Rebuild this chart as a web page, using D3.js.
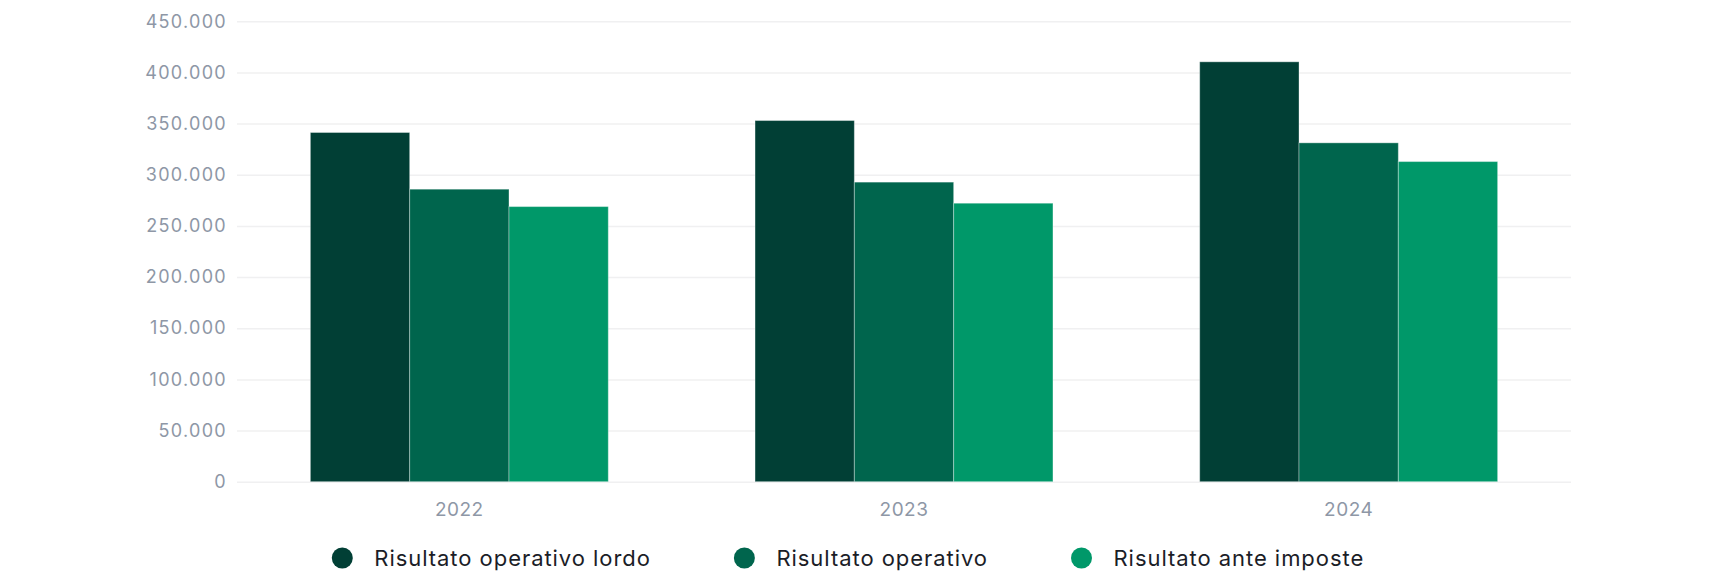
<!DOCTYPE html>
<html><head><meta charset="utf-8">
<script src="https://cdn.jsdelivr.net/npm/d3@7"></script>
<style>
html,body{margin:0;padding:0;background:#fff;}
svg{display:block;font-family:Inter, "Noto Sans", sans-serif;}
</style></head>
<body><svg id="c" width="1716" height="580"></svg>
<script>
const categories = ["2022", "2023", "2024"];
const seriesNames = ["Risultato operativo lordo", "Risultato operativo", "Risultato ante imposte"];
const lordo = [341300, 353000, 410400];
const operativo = [285900, 292800, 331200];
const anteImposte = [268900, 272200, 312900];
const yTicks = [0, 50000, 100000, 150000, 200000, 250000, 300000, 350000, 400000, 450000];
const colors = ["#013f35", "#00654d", "#009869"];

const series = [lordo, operativo, anteImposte];
const svg = d3.select("#c");
const mLeft = 237, mRight = 1571, mTop = 21.3, mBottom = 481.7;

const y = d3.scaleLinear().domain([0, 450000]).range([mBottom, mTop]);
const x0 = d3.scaleBand().domain(categories).range([mLeft, mRight]).paddingInner(0.33).paddingOuter(0.165);
const x1 = d3.scaleBand().domain(d3.range(series.length)).range([0, x0.bandwidth()]);

const fmt = v => d3.format(",")(v).replace(/,/g, ".");

// grid
const yAxis = d3.axisLeft(y).tickValues(yTicks).tickSize(-(mRight - mLeft)).tickPadding(10).tickFormat(fmt);
const gy = svg.append("g").attr("transform", `translate(${mLeft},0)`).call(yAxis);
gy.select(".domain").remove();
gy.selectAll(".tick line").attr("stroke", "#f0f0f1").attr("stroke-width", 1.5);
gy.selectAll(".tick text").attr("fill", "#8e97a6").attr("font-size", 18)
  .attr("letter-spacing", "1.3px").attr("font-family", "Inter, sans-serif");

// bars
const groups = svg.append("g").selectAll("g").data(categories).join("g")
  .attr("transform", d => `translate(${x0(d)},0)`);
groups.selectAll("rect").data((d, i) => series.map((s, k) => ({k, v: s[i]})))
  .join("rect")
  .attr("x", d => x1(d.k))
  .attr("width", x1.bandwidth())
  .attr("y", d => y(d.v))
  .attr("height", d => y(0) - y(d.v))
  .attr("fill", d => colors[d.k])
  .attr("stroke", "rgba(255,255,255,0.35)")
  .attr("stroke-width", 1);

// x axis labels
const xAxis = d3.axisBottom(x0).tickSize(0).tickPadding(21);
const gx = svg.append("g").attr("transform", `translate(0,${mBottom})`).call(xAxis);
gx.select(".domain").remove();
gx.selectAll(".tick text").attr("fill", "#8e97a6").attr("font-size", 19)
  .attr("letter-spacing", "0.5px").attr("font-family", "Inter, sans-serif");

// legend
const leg = svg.append("g");
const items = leg.selectAll("g").data(seriesNames).join("g");
items.append("circle").attr("r", 10.5).attr("cy", 0).attr("fill", (d, i) => colors[i]);
items.append("text").attr("x", 32).attr("dy", "0.36em").attr("font-size", 22)
  .attr("letter-spacing", "0.95px")
  .attr("fill", "#1b1d27").text(d => d);
let xpos = 0;
const gap = 83;
const widths = [];
items.each(function(d){ widths.push(this.getBBox().width); });
const offsets = [];
widths.forEach(w => { offsets.push(xpos); xpos += w + gap; });
const total = xpos - gap;
const start = 848 - total / 2;
items.attr("transform", (d, i) => `translate(${start + offsets[i] + 10.5},558)`);
</script></body></html>
